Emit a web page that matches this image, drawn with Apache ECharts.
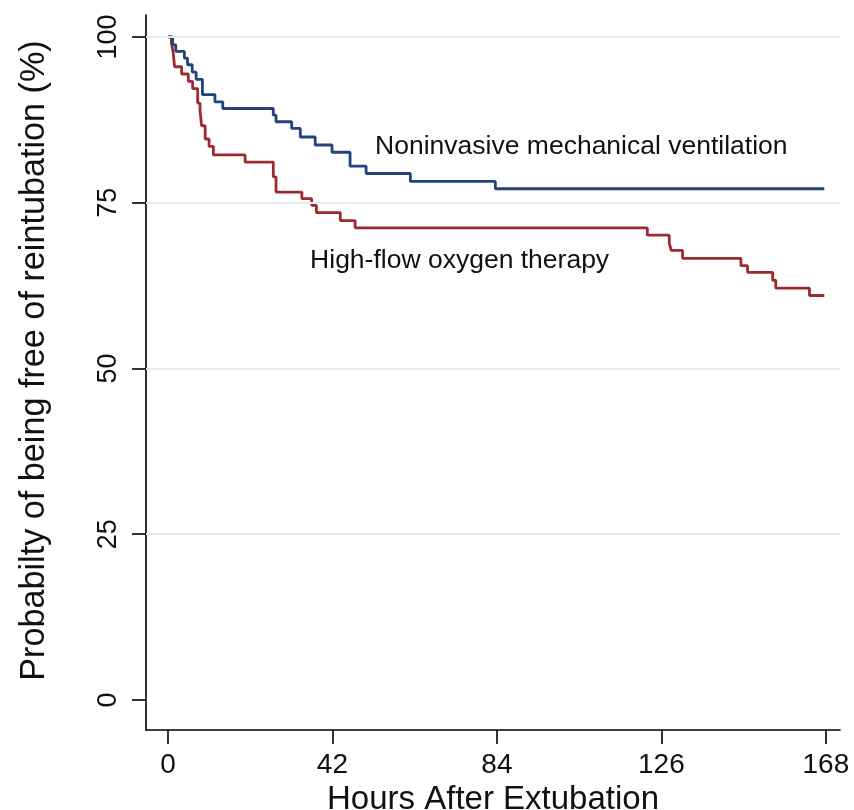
<!DOCTYPE html>
<html>
<head>
<meta charset="utf-8">
<script src="https://cdn.jsdelivr.net/npm/echarts@6/dist/echarts.min.js"></script>
<style>html,body{margin:0;padding:0;background:#fff;overflow:hidden}#c{width:854px;height:810px}</style>
</head>
<body>
<div id="c"></div>
<script>
// Tick labels
const xTicks = [0, 42, 84, 126, 168];
const yTicks = [0, 25, 50, 75, 100];
const gridValues = [25, 50, 75, 100];

// Noninvasive mechanical ventilation (hours, % free of reintubation)
const nivHours = [0, 1.2, 2.0, 4.2, 5.0, 6.2, 7.2, 8.8, 12.0, 14.0, 26.9, 27.6, 31.6, 33.8, 37.6, 41.9, 46.5, 50.6, 61.9, 83.6, 167.6];
const nivSurv  = [100, 98.8, 97.8, 96.8, 95.8, 94.7, 93.6, 91.3, 90.2, 89.2, 88.2, 87.2, 86.2, 84.9, 83.7, 82.6, 80.5, 79.4, 78.2, 77.1, 77.1];

// High-flow oxygen therapy
const hfHours = [0, 0.9, 1.3, 1.7, 3.5, 5.2, 6.3, 7.6, 8.2, 8.6, 9.5, 10.5, 11.6, 19.7, 26.9, 27.6, 34.2, 36.7, 37.9, 44.0, 47.8, 122.4, 128.0, 128.5, 131.4, 146.3, 148.0, 154.4, 155.2, 163.8, 167.6];
const hfSurv  = [100, 99.0, 97.8, 95.5, 94.4, 93.3, 92.2, 90.0, 88.9, 86.6, 84.6, 83.5, 82.2, 81.1, 78.9, 76.6, 75.6, 74.6, 73.5, 72.3, 71.2, 70.1, 68.9, 67.8, 66.6, 65.5, 64.5, 63.3, 62.1, 61.0, 61.0];

const seriesNames = ['Noninvasive mechanical ventilation', 'High-flow oxygen therapy'];
const labelAnchors = [[52.9, 83.5], [36.3, 66.3]];

const pair = (h, s) => h.map((v, i) => [v, s[i]]);

const chart = echarts.init(document.getElementById('c'), null, {renderer: 'canvas'});
const FONT = "'Liberation Sans', Arial, Helvetica, sans-serif";

chart.setOption({
  animation: false,
  backgroundColor: '#ffffff',
  grid: {left: 146, right: 14, top: 15, bottom: 80, containLabel: false, outerBoundsMode: 'none'},
  xAxis: {
    type: 'value', min: -5.6, max: 171.6,
    name: 'Hours After Extubation', nameLocation: 'middle', nameGap: 67,
    nameTextStyle: {fontFamily: FONT, fontSize: 33, color: '#111', verticalAlign: 'middle'},
    axisLine: {show: true, onZero: false, lineStyle: {color: '#000', width: 1.6}},
    axisTick: {show: true, customValues: xTicks, length: 14, lineStyle: {color: '#000', width: 1.6}},
    axisLabel: {customValues: xTicks, margin: 21, fontFamily: FONT, fontSize: 28, color: '#111'},
    splitLine: {show: false}
  },
  yAxis: {
    type: 'value', min: -4.52, max: 103.3,
    name: 'Probabilty of being free of reintubation (%)', nameLocation: 'middle', nameGap: 94, nameRotate: 90,
    nameTextStyle: {fontFamily: FONT, fontSize: 34.2, color: '#111', padding: [0, 0, 0, 24]},
    axisLine: {show: true, onZero: false, lineStyle: {color: '#000', width: 1.6}},
    axisTick: {show: true, customValues: yTicks, length: 14, lineStyle: {color: '#000', width: 1.6}},
    axisLabel: {customValues: yTicks, rotate: 90, margin: 24, fontFamily: FONT, fontSize: 27, color: '#111'},
    splitLine: {show: false}
  },
  series: [
    {
      type: 'line', data: [], silent: true, z: 1,
      markLine: {
        silent: true, symbol: ['none', 'none'], label: {show: false},
        lineStyle: {type: 'solid', color: '#e3ecef', width: 2},
        data: gridValues.map(v => ({yAxis: v}))
      }
    },
    {
      name: seriesNames[0], type: 'line', step: 'end', showSymbol: false, z: 3,
      data: pair(nivHours, nivSurv),
      lineStyle: {color: '#24427c', width: 2.8},
      markPoint: {
        symbol: 'circle', symbolSize: 0,
        label: {show: true, position: 'right', distance: 0, formatter: seriesNames[0], fontFamily: FONT, fontSize: 26.5, color: '#111'},
        data: [{coord: labelAnchors[0]}]
      }
    },
    {
      name: seriesNames[1], type: 'line', step: 'end', showSymbol: false, z: 2,
      data: pair(hfHours, hfSurv),
      lineStyle: {color: '#9c2a30', width: 2.8},
      markPoint: {
        symbol: 'circle', symbolSize: 0,
        label: {show: true, position: 'right', distance: 0, formatter: seriesNames[1], fontFamily: FONT, fontSize: 26.5, color: '#111'},
        data: [{coord: labelAnchors[1]}]
      }
    }
  ]
});
</script>
</body>
</html>
